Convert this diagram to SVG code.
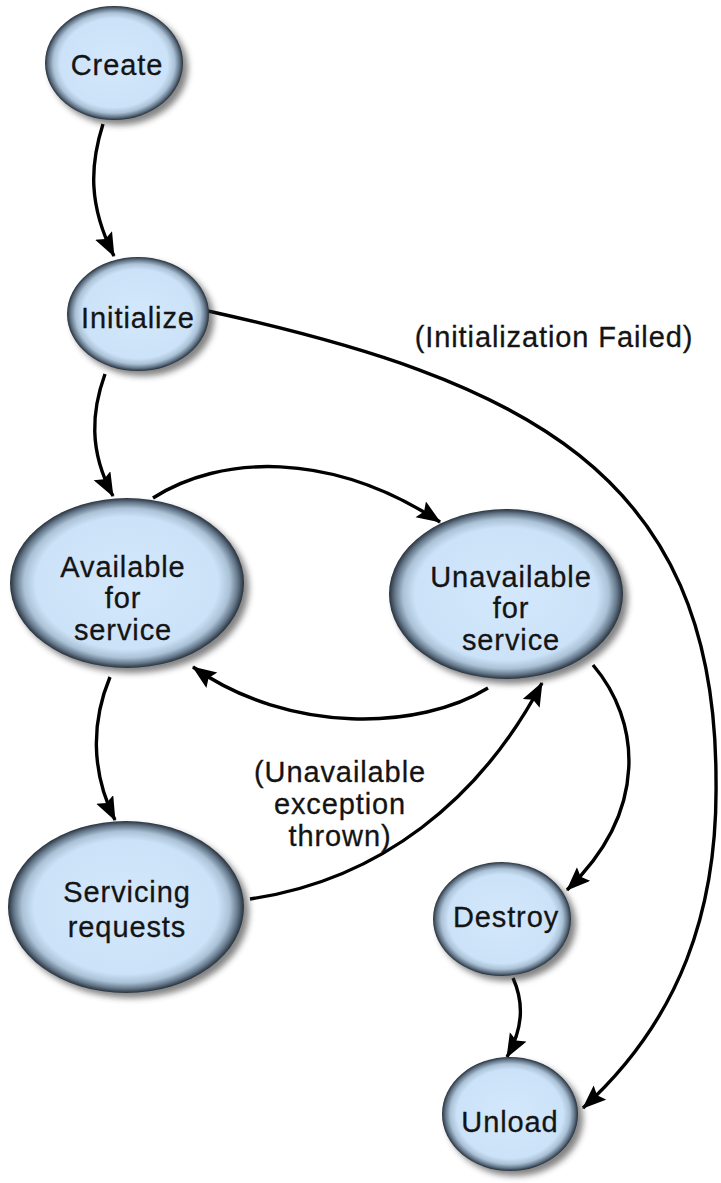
<svg xmlns="http://www.w3.org/2000/svg" width="721" height="1183" viewBox="0 0 721 1183">
<style>
.t{font-family:"Liberation Sans",Arial,sans-serif;font-size:29px;letter-spacing:0.9px;fill:#141414;stroke:#141414;stroke-width:0.3;text-anchor:middle}
.c{fill:none;stroke:#000;stroke-width:3.4}
.sh{fill:#333;opacity:0.6;filter:url(#blur)}
.nd{fill:url(#g)}
</style>
<defs>
<radialGradient id="g" cx="50%" cy="50%" r="50%">
<stop offset="0" stop-color="#d3e8fc"/>
<stop offset="0.78" stop-color="#cce2f8"/>
<stop offset="0.88" stop-color="#abc1d6"/>
<stop offset="0.95" stop-color="#64778a"/>
<stop offset="1" stop-color="#27313c"/>
</radialGradient>
<filter id="blur" x="-20%" y="-20%" width="140%" height="140%">
<feGaussianBlur stdDeviation="3"/>
</filter>
<marker id="ah" markerUnits="userSpaceOnUse" markerWidth="26" markerHeight="20" refX="23" refY="9.5" orient="auto">
<path d="M0,0 L24,9.5 L0,19 L4,9.5 Z" fill="#000"/>
</marker>
</defs>
<g id="connectors">
<path class="c" d="M103,124 C90,165 88,205 114,256" marker-end="url(#ah)"/>
<path class="c" d="M105,374 C92,410 88,450 113,496" marker-end="url(#ah)"/>
<path class="c" d="M153,498 C220,455 330,450 440,522" marker-end="url(#ah)"/>
<path class="c" d="M488,688 C420,730 290,735 193,667" marker-end="url(#ah)"/>
<path class="c" d="M110,677 C92,720 90,770 115,820" marker-end="url(#ah)"/>
<path class="c" d="M250,899 C380,880 480,800 542,683" marker-end="url(#ah)"/>
<path class="c" d="M593,665 C640,720 650,810 567,890" marker-end="url(#ah)"/>
<path class="c" d="M513,978 C525,1005 522,1030 507,1057" marker-end="url(#ah)"/>
<path class="c" d="M208,311 C520,380 716,470 716,780 C718,910 680,1020 583,1108" marker-end="url(#ah)"/>
<text class="t" x="554" y="347">(Initialization Failed)</text>
<text class="t" x="340" y="782">(Unavailable</text>
<text class="t" x="340" y="814">exception</text>
<text class="t" x="340" y="846">thrown)</text>
</g>
<g id="create">
<ellipse class="sh" cx="119" cy="68" rx="69" ry="57"/>
<ellipse class="nd" cx="114" cy="63" rx="69" ry="57"/>
<text class="t" x="117" y="75">Create</text>
</g>
<g id="initialize">
<ellipse class="sh" cx="143" cy="319" rx="71" ry="57"/>
<ellipse class="nd" cx="138" cy="314" rx="71" ry="57"/>
<text class="t" x="138" y="328">Initialize</text>
</g>
<g id="available">
<ellipse class="sh" cx="132" cy="588" rx="117" ry="85"/>
<ellipse class="nd" cx="127" cy="583" rx="117" ry="85"/>
<text class="t" x="123" y="577">Available</text>
<text class="t" x="123" y="608">for</text>
<text class="t" x="123" y="640">service</text>
</g>
<g id="unavailable">
<ellipse class="sh" cx="511" cy="599" rx="117" ry="85"/>
<ellipse class="nd" cx="506" cy="594" rx="117" ry="85"/>
<text class="t" x="511" y="587">Unavailable</text>
<text class="t" x="511" y="618">for</text>
<text class="t" x="511" y="650">service</text>
</g>
<g id="servicing">
<ellipse class="sh" cx="131" cy="912" rx="118" ry="86"/>
<ellipse class="nd" cx="126" cy="907" rx="118" ry="86"/>
<text class="t" x="127" y="902">Servicing</text>
<text class="t" x="127" y="937">requests</text>
</g>
<g id="destroy">
<ellipse class="sh" cx="507" cy="924" rx="69" ry="57"/>
<ellipse class="nd" cx="502" cy="919" rx="69" ry="57"/>
<text class="t" x="506" y="927">Destroy</text>
</g>
<g id="unload">
<ellipse class="sh" cx="515" cy="1119" rx="68" ry="57"/>
<ellipse class="nd" cx="510" cy="1114" rx="68" ry="57"/>
<text class="t" x="510" y="1132">Unload</text>
</g>
</svg>
